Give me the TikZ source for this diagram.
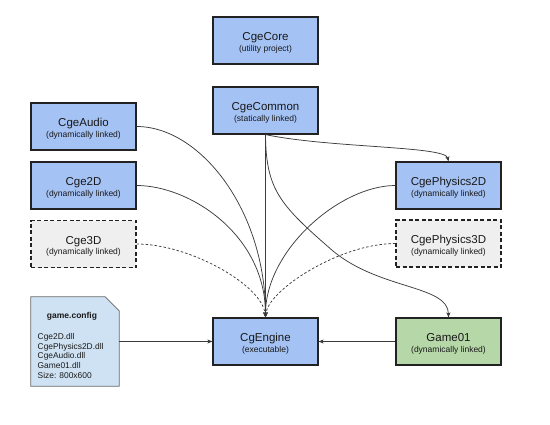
\documentclass[tikz,border=0pt]{standalone}
\usepackage{fontspec}
\setmainfont{Liberation Sans}
\usetikzlibrary{arrows.meta}
\definecolor{blueF}{HTML}{A4C2F4}
\definecolor{greenF}{HTML}{B6D7A8}
\definecolor{grayF}{HTML}{EFEFEF}
\definecolor{cfgF}{HTML}{CFE2F3}
\definecolor{edgeC}{HTML}{3C3C3C}
\definecolor{borderC}{HTML}{222222}
\newcommand\bxtext[2]{\rule{0pt}{12.4pt}#1\\{\fontsize{8.5}{10}\selectfont (#2)}}
\tikzset{
  box/.style={draw=borderC, line width=1.2pt, minimum width=105pt, minimum height=47pt,
    inner sep=0pt, align=center, fill=blueF, text=black!90,
    font=\fontsize{11.5}{10.5}\selectfont},
  dbox/.style={box, fill=grayF, dash pattern=on 4pt off 2.5pt},
  gbox/.style={box, fill=greenF},
  conn/.style={draw=edgeC, line width=0.75pt, -{Stealth[length=5pt,width=4pt,inset=1.2pt]}},
  dconn/.style={conn, dash pattern=on 2.5pt off 2pt},
}
\begin{document}
\begin{tikzpicture}[x=1pt,y=-1pt]
\useasboundingbox (0,0) rectangle (550,424);
\node[box] (core) at (265.5,40.5) {\bxtext{CgeCore}{utility project}};
\node[box] (common) at (265.5,110.5) {\bxtext{CgeCommon}{statically linked}};
\node[box] (audio) at (83.5,126.5) {\bxtext{CgeAudio}{dynamically linked}};
\node[box] (c2d) at (83.5,185.5) {\bxtext{Cge2D}{dynamically linked}};
\node[dbox] (c3d) at (83.5,244) {\bxtext{Cge3D}{dynamically linked}};
\node[box] (engine) at (265.5,341.5) {\bxtext{CgEngine}{executable}};
\node[box] (p2d) at (448.5,185.5) {\bxtext{CgePhysics2D}{dynamically linked}};
\node[dbox] (p3d) at (448.5,243.5) {\bxtext{CgePhysics3D}{dynamically linked}};
\node[gbox] (game) at (448.5,341.5) {\bxtext{Game01}{dynamically linked}};
% game.config document
\node[minimum width=88pt, minimum height=89pt, inner sep=0pt] (cfg) at (75,341.5) {};
\draw[fill=cfgF, draw=black!60, line width=0.7pt]
  (cfg.north west) -- ([xshift=-14pt]cfg.north east) -- ([yshift=-14pt]cfg.north east)
  -- (cfg.south east) -- (cfg.south west) -- cycle;
\node[font=\bfseries\fontsize{8.5}{10}\selectfont, text=black!90] (cfgtitle) at (72,316) {game.config};
\node[anchor=north west, inner sep=0pt, align=left, text=black!90,
  font=\fontsize{8.4}{9.8}\selectfont] (cfglist) at (37.5,333)
  {Cge2D.dll\\CgePhysics2D.dll\\CgeAudio.dll\\Game01.dll\\Size: 800x600};
% connectors
\draw[conn] (common.south) -- (engine.north);
\draw[conn] (common.south) .. controls (330,148) and (445,146) .. (p2d.north);
\draw[conn] (common.south) .. controls (266,190) and (280,205) .. (333,251)
  .. controls (380,290) and (448,285) .. (game.north);
\draw[conn] (audio.east) .. controls (200,126.5) and (265.5,210) .. (engine.north);
\draw[conn] (c2d.east) .. controls (190,185.5) and (265.5,235) .. (engine.north);
\draw[dconn] (c3d.east) .. controls (190,244) and (262,285) .. (engine.north);
\draw[conn] (p2d.west) .. controls (340,185.5) and (265.5,250) .. (engine.north);
\draw[dconn] (p3d.west) .. controls (340,243.5) and (268,290) .. (engine.north);
\draw[conn] (cfg.east) -- (engine.west);
\draw[conn] (game.west) -- (engine.east);
\end{tikzpicture}
\end{document}
